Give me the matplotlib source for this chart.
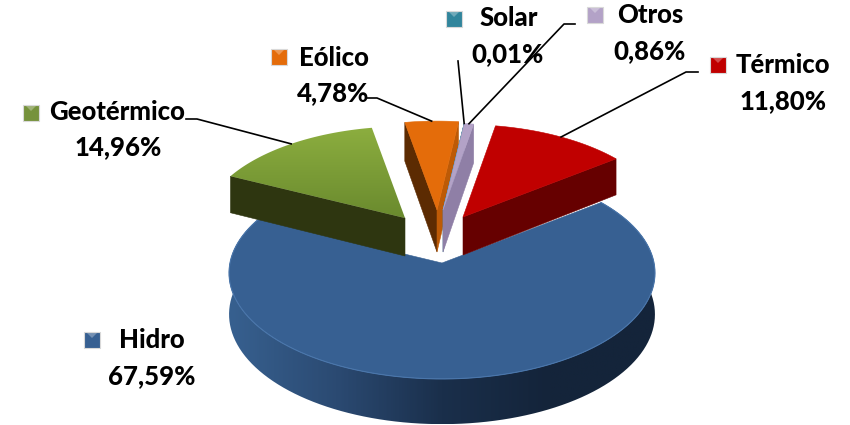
import numpy as np
import matplotlib
matplotlib.use("Agg")
import matplotlib.pyplot as plt
from matplotlib.colors import LinearSegmentedColormap
from matplotlib.patches import Polygon, Rectangle

categories = ["Hidro", "Geotérmico", "Eólico", "Solar", "Otros", "Térmico"]
shares = [67.59, 14.96, 4.78, 0.01, 0.86, 11.80]
share_labels = ["67,59%", "14,96%", "4,78%", "0,01%", "0,86%", "11,80%"]

# look of the 3d pie (pixels of the 850x425 picture)
start_angle = 37.5
pie_a, pie_b, persp = 212.0, 105.0, 0.094
apex_x = [442, 405, 437, 443, 443, 463]
apex_y = [263, 218, 210, 210, 210, 217]
radius = [1.0, 0.95, 0.92, 0.9, 0.9, 0.96]
depth = [41, 38, 42, 42, 42, 38]

top_colors = ["#376092", ("#8cae3f", "#6a8a2e"), "#e46c0a", "#31859c", "#b3a2c7", "#c00000"]
left_wall = [None, "#2e3610", "#5c2b02", None, None, None]
right_wall = [None, None, "#bd5a06", "#2a7186", "#8f7fa6", "#660000"]
key_colors = ["#376092", "#76923c", "#e46c0a", "#31859c", "#b3a2c7", "#c00000"]

# layout of labels: key centre, name centre, value centre, leader points
key_pos = [(92, 340), (31, 113), (279, 57), (454, 19), (595, 15), (718, 65)]
name_pos = [(152, 340), (117, 112), (334, 58), (509, 18), (650, 15), (783, 65)]
value_pos = [(152, 376), (118, 147), (333, 93), (508, 54), (650, 51), (783, 101)]
leaders = [None, [(186, 119), (197, 119)], [(367, 98), (377, 98)], [(458, 61)],
           [(575, 24), (564, 24)], [(698, 72), (686, 72)]]


def project(i, theta):
    t = np.radians(theta)
    u = np.cos(t) * radius[i]
    v = np.sin(t) * radius[i]
    s = 1 / (1 + persp * v)
    return apex_x[i] + pie_a * u * s, apex_y[i] - pie_b * v * s, depth[i] * s


def fill(points, color, z):
    ax.add_patch(Polygon(points, closed=True, fc=color, ec=color, lw=0.4, zorder=z))


def gradient(points, c1, c2, z, vertical=True):
    points = np.array(points)
    x0, x1 = points[:, 0].min(), points[:, 0].max()
    y0, y1 = points[:, 1].min(), points[:, 1].max()
    cmap = LinearSegmentedColormap.from_list("g", c1 if isinstance(c1, list) else [c1, c2])
    data = np.linspace(0, 1, 200).reshape(-1, 1) if vertical else np.linspace(0, 1, 200).reshape(1, -1)
    im = ax.imshow(data, cmap=cmap, extent=(x0, x1, y1, y0), aspect="auto", zorder=z)
    clip = Polygon(points, closed=True, fc="none", ec="none", transform=ax.transData)
    ax.add_patch(clip)
    im.set_clip_path(clip)


fig = plt.figure(figsize=(8.5, 4.25), dpi=100)
ax = fig.add_axes([0, 0, 1, 1])

angle = start_angle
z = 2
for i in range(len(shares)):
    sweep = shares[i] * 3.6
    thetas = np.linspace(angle, angle - sweep, 120)
    x, y, d = project(i, thetas)
    ax_pt = (apex_x[i], apex_y[i])
    outline = [ax_pt] + list(zip(x, y))

    if i == 0:
        # front wall of the big slice
        wall = list(zip(x, y)) + list(zip(x[::-1], (y + d)[::-1]))
        gradient(wall, ["#37608f", "#2b4a72", "#1a2f4b", "#14243a", "#14243a"], None, z, vertical=False)
        z += 1
    else:
        bottom = (apex_x[i], apex_y[i] + depth[i])
        if left_wall[i]:
            fill([ax_pt, (x[0], y[0]), (x[0], y[0] + d[0]), bottom], left_wall[i], z)
            z += 1
        if right_wall[i]:
            fill([ax_pt, (x[-1], y[-1]), (x[-1], y[-1] + d[-1]), bottom], right_wall[i], z)
            z += 1

    if isinstance(top_colors[i], tuple):
        gradient(outline, top_colors[i][0], top_colors[i][1], z)
    else:
        fill(outline, top_colors[i], z)
    z += 1

    if i == 0:
        ax.plot(x, y, color="#4a76ab", lw=0.8, zorder=z)
        z += 1

    if leaders[i]:
        mx, my, _ = project(i, angle - sweep / 2)
        pts = leaders[i] + [(mx, my)]
        ax.plot([p[0] for p in pts], [p[1] for p in pts], color="black", lw=1.2, zorder=50)
    angle -= sweep

# labels and legend keys
for i, name in enumerate(categories):
    ax.text(*name_pos[i], name, ha="center", va="center", fontsize=18.5,
            fontweight=900, family="Lato", color="black", zorder=60)
    ax.text(*value_pos[i], share_labels[i], ha="center", va="center", fontsize=18.5,
            fontweight=900, family="Lato", color="black", zorder=60)
    kx, ky = key_pos[i]
    ax.add_patch(Rectangle((kx - 8, ky - 8), 16, 16, fc=key_colors[i], ec="#d9d9d9", lw=0.8, zorder=60))
    ax.add_patch(Polygon([(kx - 5, ky - 7), (kx + 5, ky - 7), (kx, ky - 2)], closed=True,
                         fc="white", ec="none", alpha=0.3, zorder=61))

ax.set_xlim(0, 850)
ax.set_ylim(425, 0)
ax.axis("off")

fig.savefig("out.png", dpi=100)
